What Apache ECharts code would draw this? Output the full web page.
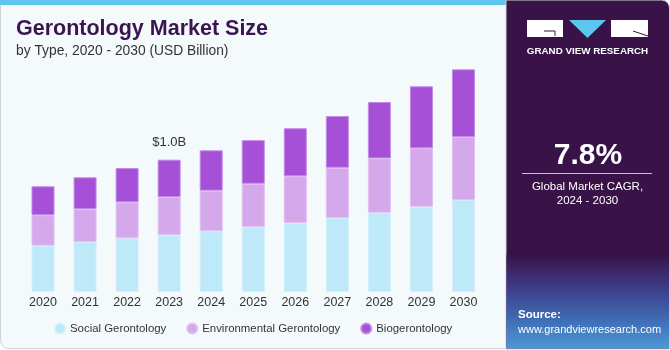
<!DOCTYPE html>
<html>
<head>
<meta charset="utf-8">
<script src="https://cdn.jsdelivr.net/npm/echarts@6/dist/echarts.min.js"></script>
<style>
  html, body { margin: 0; padding: 0; background: #ffffff; }
  #chart { width: 670px; height: 350px; }
</style>
</head>
<body>
<div id="chart"></div>
<script>
// Data (USD Billion)
const years = ['2020', '2021', '2022', '2023', '2024', '2025', '2026', '2027', '2028', '2029', '2030'];
const social = [0.350, 0.378, 0.406, 0.431, 0.459, 0.491, 0.522, 0.559, 0.599, 0.645, 0.695];
const environmental = [0.230, 0.249, 0.272, 0.287, 0.307, 0.327, 0.353, 0.380, 0.411, 0.441, 0.476];
const bio = [0.219, 0.240, 0.259, 0.282, 0.305, 0.330, 0.363, 0.391, 0.426, 0.469, 0.512];
const seriesNames = ['Social Gerontology', 'Environmental Gerontology', 'Biogerontology'];
const labelYear = '2023';
const labelText = '$1.0B';

const chart = echarts.init(document.getElementById('chart'));
const font = 'Liberation Sans';

// Biogerontology on top carries the total label for 2023
const bioData = bio.map(function (v, i) {
    if (years[i] === labelYear) {
        return {
            value: v,
            label: {
                show: true,
                position: 'top',
                distance: 11,
                formatter: labelText,
                color: '#333',
                fontSize: 13,
                fontFamily: font
            }
        };
    }
    return v;
});

var option = {
    animation: false,
    textStyle: { fontFamily: font },
    title: {
        text: 'Gerontology Market Size',
        subtext: 'by Type, 2020 - 2030 (USD Billion)',
        left: 11,
        top: 13,
        itemGap: 4,
        textStyle: {
            fontSize: 21.5,
            fontWeight: 'bold',
            color: '#3a1551',
            fontFamily: font
        },
        subtextStyle: {
            fontSize: 13.8,
            color: '#333',
            fontFamily: font
        }
    },
    legend: {
        data: seriesNames,
        left: 49,
        top: 317.5,
        icon: 'circle',
        itemWidth: 10,
        itemHeight: 10,
        itemGap: 20,
        textStyle: { fontSize: 11.4, color: '#333', fontFamily: font }
    },
    grid: {
        left: 22,
        width: 462.5,
        top: 60.5,
        bottom: 58,
        containLabel: false
    },
    xAxis: {
        type: 'category',
        data: years,
        axisLine: { show: false },
        axisTick: { show: false },
        axisLabel: { color: '#333', fontSize: 12.5, margin: 4, fontFamily: font }
    },
    yAxis: {
        type: 'value',
        min: 0,
        max: 1.75,
        show: false,
        splitLine: { show: false }
    },
    series: [
        {
            name: seriesNames[0],
            type: 'bar',
            stack: 'total',
            barWidth: 23,
            data: social,
            itemStyle: { color: '#bde9f8', borderColor: '#d3f0fb', borderWidth: 1 }
        },
        {
            name: seriesNames[1],
            type: 'bar',
            stack: 'total',
            barWidth: 23,
            data: environmental,
            itemStyle: { color: '#d4a8ea', borderColor: '#e0c0f2', borderWidth: 1 }
        },
        {
            name: seriesNames[2],
            type: 'bar',
            stack: 'total',
            barWidth: 23,
            data: bioData,
            itemStyle: { color: '#a550d6', borderColor: '#c28ae6', borderWidth: 1 }
        }
    ],
    graphic: [
        // left panel
        {
            type: 'rect', z: -10,
            shape: { x: 0.5, y: 0.5, width: 506, height: 348, r: [0, 0, 0, 8] },
            style: { fill: '#f4f9fc', stroke: '#cfd3d6', lineWidth: 1 }
        },
        {
            type: 'rect', z: -9,
            shape: { x: 0, y: 0, width: 507, height: 5 },
            style: { fill: '#5cc6ef' }
        },
        // right panel
        {
            type: 'rect', z: -8,
            shape: { x: 506, y: 0, width: 163.5, height: 349, r: [0, 8, 0, 0] },
            style: { fill: '#391348', stroke: '#cfd3d6', lineWidth: 1 }
        },
        {
            type: 'rect', z: -7,
            shape: { x: 506.5, y: 255, width: 162.5, height: 93.5 },
            style: {
                fill: new echarts.graphic.LinearGradient(0, 0, 0, 1, [
                    { offset: 0, color: 'rgba(57,19,72,1)' },
                    { offset: 0.3, color: '#3c3680' },
                    { offset: 0.7, color: '#3f6db6' },
                    { offset: 1, color: '#4b9ad8' }
                ])
            }
        },
        // logo
        {
            type: 'rect',
            shape: { x: 527, y: 20, width: 36, height: 17 },
            style: { fill: '#ffffff' }
        },
        {
            type: 'polyline',
            shape: { points: [[544, 31], [555, 31], [555, 36]] },
            style: { stroke: '#391348', lineWidth: 1, fill: null }
        },
        {
            type: 'polygon',
            shape: { points: [[569, 20], [606, 20], [587.5, 38]] },
            style: { fill: '#5cc6ef' }
        },
        {
            type: 'rect',
            shape: { x: 611, y: 20, width: 37, height: 17 },
            style: { fill: '#ffffff' }
        },
        {
            type: 'line',
            shape: { x1: 633, y1: 31, x2: 648, y2: 36 },
            style: { stroke: '#391348', lineWidth: 1 }
        },
        {
            type: 'text',
            style: {
                text: 'GRAND VIEW RESEARCH', x: 587.5, y: 51,
                align: 'center', verticalAlign: 'middle',
                fill: '#ffffff', font: 'bold 9.8px ' + font
            }
        },
        // CAGR
        {
            type: 'text',
            style: {
                text: '7.8%', x: 588, y: 156,
                align: 'center', verticalAlign: 'middle',
                fill: '#ffffff', font: 'bold 30px ' + font
            }
        },
        {
            type: 'line',
            shape: { x1: 522, y1: 173.5, x2: 652, y2: 173.5 },
            style: { stroke: '#c9c0d0', lineWidth: 1 }
        },
        {
            type: 'text',
            style: {
                text: 'Global Market CAGR,', x: 587.5, y: 187,
                align: 'center', verticalAlign: 'middle',
                fill: '#ffffff', font: '11.5px ' + font
            }
        },
        {
            type: 'text',
            style: {
                text: '2024 - 2030', x: 587.5, y: 201,
                align: 'center', verticalAlign: 'middle',
                fill: '#ffffff', font: '11.5px ' + font
            }
        },
        // source
        {
            type: 'text',
            style: {
                text: 'Source:', x: 518, y: 315,
                align: 'left', verticalAlign: 'middle',
                fill: '#ffffff', font: 'bold 11.5px ' + font
            }
        },
        {
            type: 'text',
            style: {
                text: 'www.grandviewresearch.com', x: 518, y: 330,
                align: 'left', verticalAlign: 'middle',
                fill: '#ffffff', font: '11px ' + font
            }
        }
    ]
};

chart.setOption(option);
</script>
</body>
</html>
